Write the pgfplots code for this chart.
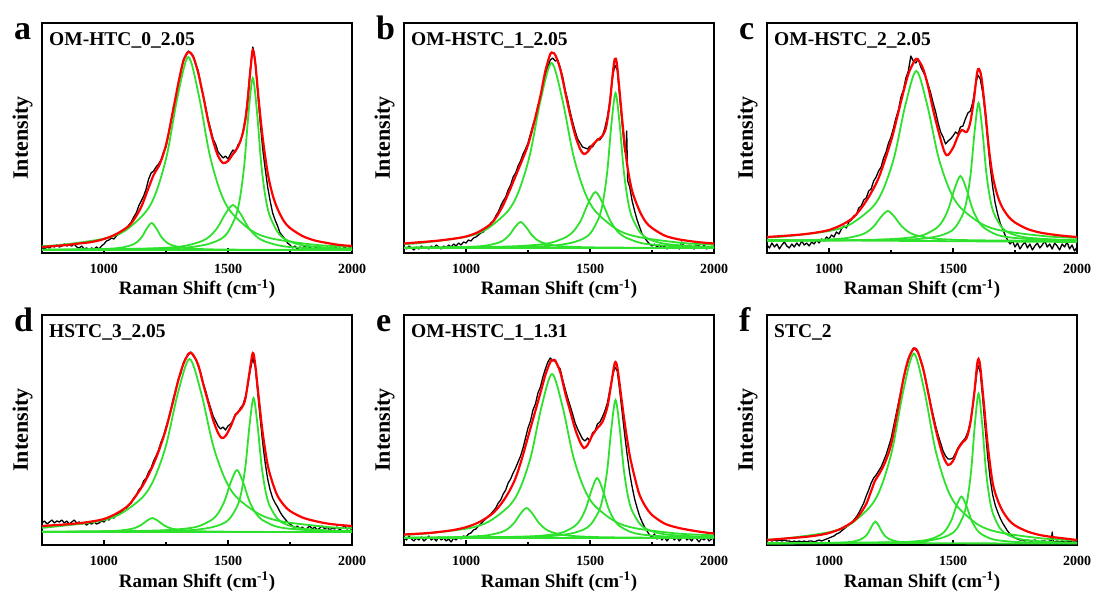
\documentclass[border=0pt]{standalone}
\usepackage{fontspec}
\setmainfont{Liberation Serif}
\usepackage{pgfplots}
\pgfplotsset{compat=1.18}

\definecolor{fitgreen}{RGB}{45,225,45}
\newcommand{\ticksize}{\fontsize{14}{15}\selectfont\bfseries}
\newcommand{\labsize}{\fontsize{19}{20}\selectfont\bfseries}
\newcommand{\ylabsize}{\fontsize{22}{23}\selectfont\bfseries}
\newcommand{\titsize}{\fontsize{19.5}{20}\selectfont\bfseries}
\newcommand{\letsize}{\fontsize{34}{35}\selectfont\bfseries}

\pgfplotsset{
  ramanpanel/.style={
    scale only axis, width=310pt, height=230pt,
    xmin=750, xmax=2000, ymin=0, ymax=230,
    xtick={1000,1500,2000}, xticklabels={1000,1500,2000},
    minor xtick={1250,1750},
    ytick=\empty, xtick pos=lower, tick align=inside,
    major tick length=5pt, minor tick length=3pt,
    tick style={black, line width=1.1pt},
    axis line style={line width=1.4pt},
    /pgf/number format/assume math mode=true,
    xticklabel style={font=\ticksize, anchor=base, yshift=-21pt, inner sep=0pt},
    xlabel={Raman Shift (cm\textsuperscript{-1})},
    ylabel={Intensity},
    xlabel style={font=\labsize, at={(axis description cs:0.5,0)}, anchor=base, yshift=-42pt, inner sep=0pt},
    ylabel style={font=\ylabsize, at={(axis description cs:-0.03,0.5)}, anchor=south, inner sep=0pt},
  },
  datal/.style={black, line width=1.3pt, line join=round},
  fitl/.style={red, line width=2.2pt, smooth},
  compl/.style={fitgreen, line width=1.8pt, smooth},
}

\begin{document}
\begin{tikzpicture}[x=1pt,y=1pt]
\useasboundingbox (0,0) rectangle (1093,592);

% ---------------- (a) OM-HTC_0_2.05 ----------------
\begin{axis}[ramanpanel, name=pa, at={(42pt,339pt)}, anchor=south west]
\addplot[datal] coordinates {(750,5)(760,4)(770,6)(780,5)(790,7)(800,6)(810,8)(820,6)(830,7)(840,9)(850,7)(860,8)(870,7)(880,9)(890,6)(900,5)(910,7)(920,4)(930,5)(940,3)(950,5)(960,4)(970,6)(980,4)(990,7)(1000,9)(1010,12)(1020,13)(1030,15)(1040,14)(1050,17)(1060,19)(1070,20)(1080,23)(1090,24)(1100,28)(1110,31)(1120,36)(1130,40)(1140,47)(1150,52)(1160,57)(1170,64)(1180,74)(1190,80)(1200,82)(1210,86)(1220,89)(1230,93)(1240,101)(1250,106)(1260,118)(1270,131)(1280,146)(1290,155)(1300,171)(1310,180)(1320,193)(1330,197)(1340,202)(1350,200)(1360,197)(1370,188)(1380,182)(1390,168)(1400,158)(1410,146)(1420,133)(1430,124)(1440,114)(1450,109)(1460,101)(1470,98)(1480,95)(1490,97)(1500,94)(1510,99)(1520,103)(1530,101)(1540,108)(1550,111)(1560,121)(1570,135)(1580,157)(1590,184)(1600,206)(1610,192)(1620,160)(1630,130)(1640,104)(1650,84)(1660,66)(1670,52)(1680,40)(1690,33)(1700,27)(1710,20)(1720,17)(1730,14)(1740,10)(1750,8)(1760,5)(1770,7)(1780,4)(1790,6)(1800,5)(1810,7)(1820,4)(1830,6)(1840,3)(1850,5)(1860,6)(1870,4)(1880,5)(1890,3)(1900,6)(1910,4)(1920,5)(1930,7)(1940,4)(1950,5)(1960,3)(1970,6)(1980,4)(1990,5)(2000,6)};
\addplot[compl] coordinates {(750,3)(2000,3)};
\addplot[compl] coordinates {(750,6.9)(830,8.2)(1000,14.3)(1085,22.3)(1170,41.6)(1212.5,62.4)(1255,99.5)(1297.5,157.4)(1340,196)(1382.5,157.4)(1425,99.5)(1467.5,62.4)(1510,41.6)(1595,22.3)(1680,14.3)(1850,8.2)(2000,6.1)};
\addplot[compl] coordinates {(750,3.2)(812,3.3)(964,3.7)(1040,4.6)(1078,5.7)(1116,8.4)(1135,11.3)(1154,16.5)(1173,24.6)(1192,30)(1211,24.6)(1230,16.5)(1249,11.3)(1268,8.4)(1306,5.7)(1344,4.6)(1420,3.7)(1572,3.3)(2000,3.1)};
\addplot[compl] coordinates {(750,3.3)(900,3.4)(1148,4.2)(1272,5.6)(1334,7.5)(1396,12)(1427,16.9)(1458,25.5)(1489,39)(1520,48)(1551,39)(1582,25.5)(1613,16.9)(1644,12)(1706,7.5)(1768,5.6)(1892,4.2)(2000,3.7)};
\addplot[compl] coordinates {(750,3.3)(1260,4.7)(1396,7.6)(1464,13.1)(1498,20.2)(1532,37.4)(1549,56)(1566,89)(1583,140.6)(1600,175)(1617,140.6)(1634,89)(1651,56)(1668,37.4)(1702,20.2)(1736,13.1)(1804,7.6)(1940,4.7)(2000,4.2)};
\addplot[fitl] coordinates {(750,6)(800,7)(850,8)(900,9.5)(950,11)(1000,14)(1050,19)(1100,27)(1125,35)(1150,46)(1175,62)(1200,78)(1225,89)(1250,108)(1275,138)(1300,170)(1320,192)(1340,201)(1360,196)(1380,180)(1400,157)(1420,132)(1440,112)(1460,97)(1480,90)(1500,92)(1520,99)(1540,106)(1560,120)(1575,142)(1590,182)(1600,203)(1610,190)(1625,150)(1640,115)(1660,80)(1680,58)(1700,44)(1725,32)(1750,25)(1800,17)(1850,12.5)(1900,10)(1950,8)(2000,7)};
\end{axis}

% ---------------- (b) OM-HSTC_1_2.05 ----------------
\begin{axis}[ramanpanel, name=pb, at={(404pt,339pt)}, anchor=south west]
\addplot[datal] coordinates {(750,6)(760,4)(770,7)(780,5)(790,3)(800,6)(810,4)(820,7)(830,5)(840,6)(850,4)(860,7)(870,5)(880,8)(890,6)(900,4)(910,7)(920,5)(930,8)(940,6)(950,9)(960,7)(970,10)(980,8)(990,11)(1000,10)(1010,13)(1020,12)(1030,15)(1040,16)(1050,18)(1060,20)(1070,21)(1080,25)(1090,26)(1100,30)(1110,32)(1120,37)(1130,41)(1140,47)(1150,52)(1160,56)(1170,63)(1180,68)(1190,76)(1200,80)(1210,87)(1220,92)(1230,99)(1240,104)(1250,110)(1260,119)(1270,128)(1280,135)(1290,147)(1300,155)(1310,167)(1320,178)(1330,186)(1340,193)(1350,195)(1360,192)(1370,193)(1380,185)(1390,176)(1400,163)(1410,153)(1420,141)(1430,131)(1440,122)(1450,114)(1460,110)(1470,106)(1480,105)(1490,104)(1500,107)(1510,106)(1520,110)(1530,114)(1540,113)(1550,117)(1560,125)(1570,136)(1580,152)(1590,174)(1600,188)(1610,183)(1620,155)(1630,128)(1640,102)(1645,100)(1648,122)(1652,72)(1660,66)(1670,52)(1680,42)(1690,33)(1700,26)(1710,19)(1720,15)(1730,12)(1740,9)(1750,7)(1760,9)(1770,6)(1780,8)(1790,5)(1800,7)(1810,4)(1820,6)(1830,8)(1840,5)(1850,7)(1860,4)(1870,11)(1880,6)(1890,5)(1900,8)(1910,6)(1920,4)(1930,9)(1940,7)(1950,5)(1960,8)(1970,4)(1980,6)(1990,5)(2000,7)};
\addplot[compl] coordinates {(750,5)(2000,5)};
\addplot[compl] coordinates {(750,9.0)(817,10)(993,15.9)(1081,23.5)(1169,42)(1213,62)(1257,97.5)(1301,153)(1345,190)(1389,153)(1433,97.5)(1477,62)(1521,42)(1609,23.5)(1697,15.9)(1873,10)(2000,8.3)};
\addplot[compl] coordinates {(750,5.2)(770,5.3)(950,5.7)(1040,6.5)(1085,7.6)(1130,10.2)(1152.5,13)(1175,18)(1197.5,25.8)(1220,31)(1242.5,25.8)(1265,18)(1287.5,13)(1310,10.2)(1355,7.6)(1400,6.5)(1490,5.7)(1670,5.3)(2000,5.1)};
\addplot[compl] coordinates {(750,5.3)(942,5.6)(1174,6.5)(1290,8.3)(1348,10.6)(1406,16.2)(1435,22.2)(1464,33)(1493,49.8)(1522,61)(1551,49.8)(1580,33)(1609,22.2)(1638,16.2)(1696,10.6)(1754,8.3)(1870,6.5)(2000,5.8)};
\addplot[compl] coordinates {(750,5.2)(1273,6.5)(1405,9.2)(1471,14.1)(1504,20.5)(1537,36)(1553.5,52.7)(1570,82.5)(1586.5,129)(1603,160)(1619.5,129)(1636,82.5)(1652.5,52.7)(1669,36)(1702,20.5)(1735,14.1)(1801,9.2)(1933,6.5)(2000,6.1)};
\addplot[fitl] coordinates {(750,9.5)(800,10.5)(850,11.5)(900,12.7)(950,14.3)(1000,16.5)(1050,21)(1100,29)(1125,37)(1150,48)(1175,62)(1200,77)(1225,92)(1250,108)(1275,131)(1300,157)(1320,182)(1340,199)(1350,200)(1360,198)(1380,184)(1400,161)(1420,138)(1440,118)(1460,104)(1475,99)(1490,101)(1510,108)(1530,113)(1550,117)(1565,126)(1580,150)(1592,180)(1600,194)(1608,190)(1620,160)(1635,120)(1650,88)(1670,62)(1700,42)(1725,31)(1750,25)(1800,17.5)(1850,14)(1900,12)(1950,10.5)(2000,9.5)};
\end{axis}

% ---------------- (c) OM-HSTC_2_2.05 ----------------
\begin{axis}[ramanpanel, name=pc, at={(767pt,339pt)}, anchor=south west]
\addplot[datal] coordinates {(750,8)(760,5)(770,10)(780,6)(790,9)(800,4)(810,8)(820,11)(830,7)(840,5)(850,9)(860,6)(870,10)(880,7)(890,12)(900,8)(910,10)(920,7)(930,11)(940,9)(950,13)(960,10)(970,14)(980,12)(990,16)(1000,14)(1010,18)(1020,16)(1030,21)(1040,19)(1050,24)(1060,27)(1070,25)(1080,31)(1090,33)(1100,37)(1110,38)(1120,45)(1130,47)(1140,53)(1150,55)(1160,62)(1170,64)(1180,72)(1190,76)(1200,82)(1210,86)(1220,95)(1230,101)(1240,110)(1250,116)(1260,125)(1270,135)(1280,143)(1290,156)(1300,163)(1310,175)(1320,182)(1330,197)(1340,192)(1350,190)(1360,194)(1370,186)(1380,181)(1390,176)(1400,168)(1410,160)(1420,150)(1430,141)(1440,130)(1450,121)(1460,116)(1470,109)(1480,112)(1490,114)(1500,117)(1510,121)(1520,119)(1530,126)(1540,127)(1550,134)(1560,140)(1570,142)(1580,151)(1590,167)(1600,178)(1610,174)(1620,160)(1630,139)(1640,112)(1650,86)(1660,66)(1670,50)(1680,39)(1690,30)(1700,24)(1710,18)(1720,13)(1730,9)(1740,12)(1750,6)(1760,10)(1770,4)(1780,8)(1790,11)(1800,5)(1810,9)(1820,3)(1830,7)(1840,10)(1850,5)(1860,8)(1870,12)(1880,6)(1890,9)(1900,4)(1910,10)(1920,7)(1930,3)(1940,9)(1950,6)(1960,11)(1970,4)(1980,8)(1990,2)(2000,6)};
\addplot[compl] coordinates {(750,13)(2000,11)};
\addplot[compl] coordinates {(750,15.6)(824,16.6)(1000,22)(1088,29)(1176,46)(1220,64.4)(1264,97)(1308,148)(1352,182)(1396,148)(1440,97)(1484,64.4)(1528,46)(1616,29)(1704,22)(1880,16.6)(2000,15.1)};
\addplot[compl] coordinates {(750,12.4)(907,12.8)(1017,13.8)(1072,15)(1127,18)(1154.5,21.2)(1182,27)(1209.5,36)(1237,42)(1264.5,36)(1292,27)(1319.5,21.2)(1347,18)(1402,15)(1457,13.8)(1567,12.8)(1787,12.3)(2000,12.2)};
\addplot[compl] coordinates {(750,12.2)(1050,12.6)(1242,13.8)(1338,15.8)(1386,18.5)(1434,25)(1458,32)(1482,44.5)(1506,64)(1530,77)(1554,64)(1578,44.5)(1602,32)(1626,25)(1674,18.5)(1722,15.8)(1818,13.8)(2000,12.7)};
\addplot[compl] coordinates {(750,12.2)(1293,13.4)(1417,15.7)(1479,20.1)(1510,25.8)(1541,39.6)(1556.5,54.5)(1572,81)(1587.5,122.4)(1603,150)(1618.5,122.4)(1634,81)(1649.5,54.5)(1665,39.6)(1696,25.8)(1727,20.1)(1789,15.7)(1913,13.4)(2000,12.8)};
\addplot[fitl] coordinates {(750,16)(800,16.8)(850,17.7)(900,18.8)(950,20.5)(1000,23)(1050,28)(1100,36)(1150,52)(1200,75)(1250,112)(1275,136)(1300,161)(1320,179)(1340,190)(1350,194)(1360,193)(1380,184)(1400,166)(1420,143)(1440,123)(1460,105)(1470,99)(1480,98)(1500,105)(1520,117)(1535,123)(1555,121)(1570,131)(1585,155)(1597,180)(1605,184)(1615,175)(1630,142)(1645,104)(1660,77)(1680,57)(1700,45)(1725,36)(1750,30.5)(1800,24)(1850,20.5)(1900,18.5)(1950,17)(2000,16)};
\end{axis}

% ---------------- (d) HSTC_3_2.05 ----------------
\begin{axis}[ramanpanel, name=pd, at={(42pt,47pt)}, anchor=south west]
\addplot[datal] coordinates {(750,22)(760,24)(770,21)(780,23)(790,25)(800,22)(810,24)(820,23)(830,25)(840,22)(850,24)(860,21)(870,23)(880,25)(890,22)(900,23)(910,21)(920,22)(930,20)(940,22)(950,21)(960,23)(970,21)(980,22)(990,24)(1000,23)(1010,26)(1020,25)(1030,28)(1040,27)(1050,30)(1060,32)(1070,33)(1080,36)(1090,37)(1100,40)(1110,42)(1120,47)(1130,50)(1140,55)(1150,58)(1160,64)(1170,67)(1180,73)(1190,77)(1200,84)(1210,89)(1220,95)(1230,103)(1240,109)(1250,118)(1260,126)(1270,136)(1280,147)(1290,156)(1300,166)(1310,172)(1320,182)(1330,187)(1340,190)(1350,193)(1360,189)(1370,186)(1380,179)(1390,172)(1400,162)(1410,154)(1420,145)(1430,137)(1440,129)(1450,124)(1460,119)(1470,116)(1480,118)(1490,115)(1500,119)(1510,121)(1520,124)(1530,131)(1540,132)(1550,137)(1560,140)(1570,148)(1580,160)(1590,175)(1600,187)(1610,178)(1620,152)(1630,126)(1640,102)(1650,82)(1660,66)(1670,55)(1680,47)(1690,42)(1700,38)(1710,33)(1720,29)(1730,26)(1740,23)(1750,21)(1760,19)(1770,17)(1780,19)(1790,16)(1800,18)(1810,15)(1820,17)(1830,19)(1840,16)(1850,18)(1860,15)(1870,17)(1880,19)(1890,16)(1900,18)(1910,15)(1920,17)(1930,16)(1940,18)(1950,15)(1960,17)(1970,19)(1980,16)(1990,17)(2000,15)};
\addplot[compl] coordinates {(750,13)(2000,13)};
\addplot[compl] coordinates {(750,17.3)(775,17.7)(965,23.2)(1060,30.3)(1155,47.6)(1202.5,66.3)(1250,99.5)(1297.5,151.4)(1345,186)(1392.5,151.4)(1440,99.5)(1487.5,66.3)(1535,47.6)(1630,30.3)(1725,23.2)(1915,17.7)(2000,16.6)};
\addplot[compl] coordinates {(750,13.1)(925,13.4)(1015,13.8)(1060,14.4)(1105,15.8)(1127.5,17.3)(1150,20)(1172.5,24.2)(1195,27)(1217.5,24.2)(1240,20)(1262.5,17.3)(1285,15.8)(1330,14.4)(1375,13.8)(1465,13.4)(1645,13.1)(2000,13)};
\addplot[compl] coordinates {(750,13.2)(1036,13.6)(1236,14.7)(1336,16.6)(1386,19.2)(1436,25.4)(1461,32.1)(1486,44)(1511,62.6)(1536,75)(1561,62.6)(1586,44)(1611,32.1)(1636,25.4)(1686,19.2)(1736,16.6)(1836,14.7)(2000,13.7)};
\addplot[compl] coordinates {(750,13.2)(1283,14.3)(1411,16.6)(1475,20.9)(1507,26.4)(1539,39.8)(1555,54.3)(1571,80)(1587,120.2)(1603,147)(1619,120.2)(1635,80)(1651,54.3)(1667,39.8)(1699,26.4)(1731,20.9)(1795,16.6)(1923,14.3)(2000,13.9)};
\addplot[fitl] coordinates {(750,19)(800,19.8)(850,20.7)(900,21.8)(950,23.5)(1000,26)(1050,31.5)(1100,40)(1150,57)(1175,68)(1200,81)(1225,97)(1250,116)(1275,140)(1300,165)(1320,181)(1340,191)(1350,192)(1360,190)(1380,180)(1400,161)(1420,143)(1440,125)(1460,112)(1475,107)(1490,109)(1510,118)(1530,130)(1555,137)(1570,146)(1585,170)(1600,192)(1610,180)(1625,145)(1640,112)(1660,80)(1680,62)(1700,49)(1725,40)(1750,34)(1800,27.5)(1850,24)(1900,21.5)(1950,20)(2000,19)};
\end{axis}

% ---------------- (e) OM-HSTC_1_1.31 ----------------
\begin{axis}[ramanpanel, name=pe, at={(404pt,47pt)}, anchor=south west]
\addplot[datal] coordinates {(750,8)(760,5)(770,9)(780,6)(790,4)(800,7)(810,5)(820,8)(830,4)(840,6)(850,9)(860,5)(870,7)(880,4)(890,8)(900,5)(910,7)(920,4)(930,6)(940,3)(950,7)(960,5)(970,8)(980,6)(990,9)(1000,8)(1010,11)(1020,12)(1030,15)(1040,16)(1050,19)(1060,21)(1070,24)(1080,26)(1090,29)(1100,31)(1110,34)(1120,37)(1130,42)(1140,45)(1150,51)(1160,55)(1170,62)(1180,66)(1190,72)(1200,77)(1210,83)(1220,89)(1230,97)(1240,107)(1250,117)(1260,124)(1270,135)(1280,141)(1290,152)(1300,158)(1310,168)(1320,176)(1330,183)(1340,187)(1350,184)(1360,185)(1370,179)(1380,176)(1390,165)(1400,156)(1410,147)(1420,139)(1430,131)(1440,122)(1450,116)(1460,111)(1470,106)(1480,104)(1490,107)(1500,104)(1510,112)(1520,114)(1530,121)(1540,123)(1550,128)(1560,134)(1570,142)(1580,155)(1590,168)(1600,178)(1610,174)(1620,154)(1630,132)(1640,110)(1650,90)(1660,72)(1670,58)(1680,46)(1690,37)(1700,29)(1710,23)(1720,18)(1730,14)(1740,10)(1750,8)(1760,11)(1770,6)(1780,9)(1790,5)(1800,8)(1810,4)(1820,7)(1830,9)(1840,5)(1850,8)(1860,4)(1870,7)(1880,10)(1890,5)(1900,7)(1910,4)(1920,8)(1930,6)(1940,3)(1950,7)(1960,5)(1970,8)(1980,4)(1990,6)(2000,7)};
\addplot[compl] coordinates {(750,7)(2000,7)};
\addplot[compl] coordinates {(750,10.3)(837,11.4)(1007,16.6)(1092,23.4)(1177,39.8)(1219.5,57.5)(1262,89)(1304.5,138.2)(1347,171)(1389.5,138.2)(1432,89)(1474.5,57.5)(1517,39.8)(1602,23.4)(1687,16.6)(1857,11.4)(2000,9.7)};
\addplot[compl] coordinates {(750,7.3)(944,7.8)(1044,8.8)(1094,10)(1144,13)(1169,16.2)(1194,22)(1219,31)(1244,37)(1269,31)(1294,22)(1319,16.2)(1344,13)(1394,10)(1444,8.8)(1544,7.8)(1744,7.3)(2000,7.1)};
\addplot[compl] coordinates {(750,7.2)(1079,7.6)(1259,8.6)(1349,10.5)(1394,13)(1439,19)(1461.5,25.5)(1484,37)(1506.5,55)(1529,67)(1551.5,55)(1574,37)(1596.5,25.5)(1619,19)(1664,13)(1709,10.5)(1799,8.6)(2000,7.5)};
\addplot[compl] coordinates {(750,7.2)(1273,8.4)(1405,10.7)(1471,15.1)(1504,20.8)(1537,34.6)(1553.5,49.5)(1570,76)(1586.5,117.4)(1603,145)(1619.5,117.4)(1636,76)(1652.5,49.5)(1669,34.6)(1702,20.8)(1735,15.1)(1801,10.7)(1933,8.4)(2000,8)};
\addplot[fitl] coordinates {(750,10.5)(800,11.2)(850,12)(900,13.3)(950,15)(1000,17.8)(1050,22.5)(1100,30)(1125,36)(1150,44)(1175,54)(1200,67)(1225,86)(1250,108)(1275,130)(1300,152)(1320,170)(1340,183)(1350,185)(1360,184)(1380,173)(1400,152)(1420,134)(1440,116)(1460,103)(1475,97)(1490,100)(1510,110)(1530,117)(1550,123)(1570,138)(1585,160)(1600,182)(1610,178)(1625,150)(1640,122)(1660,90)(1680,68)(1700,50)(1725,38)(1750,30)(1800,21.5)(1850,17.5)(1900,15)(1950,13)(2000,11.5)};
\end{axis}

% ---------------- (f) STC_2 ----------------
\begin{axis}[ramanpanel, name=pf, at={(767pt,47pt)}, anchor=south west]
\addplot[datal] coordinates {(750,4)(760,5)(770,4)(780,5)(790,4)(800,5)(810,4)(820,5)(830,4)(840,4)(850,3)(860,4)(870,3)(880,4)(890,3)(900,4)(910,3)(920,4)(930,4)(940,3)(950,4)(960,5)(970,4)(980,5)(990,6)(1000,7)(1010,8)(1020,9)(1030,11)(1040,12)(1050,14)(1060,16)(1070,18)(1080,20)(1090,22)(1100,25)(1110,28)(1120,32)(1130,37)(1140,42)(1150,49)(1160,55)(1170,62)(1180,67)(1190,70)(1200,74)(1210,78)(1220,84)(1230,90)(1240,98)(1250,106)(1260,118)(1270,130)(1280,142)(1290,154)(1300,166)(1310,176)(1320,185)(1330,192)(1340,197)(1350,195)(1360,192)(1370,184)(1380,176)(1390,165)(1400,153)(1410,141)(1420,130)(1430,119)(1440,110)(1450,102)(1460,94)(1470,89)(1480,86)(1490,86)(1500,87)(1510,92)(1520,97)(1530,101)(1540,104)(1550,107)(1560,113)(1570,123)(1580,140)(1590,160)(1600,180)(1610,173)(1620,146)(1630,116)(1640,88)(1650,66)(1660,50)(1670,40)(1680,33)(1690,27)(1700,22)(1710,18)(1720,14)(1730,11)(1740,9)(1750,7)(1760,6)(1770,5)(1780,5)(1790,4)(1800,5)(1810,4)(1820,4)(1830,5)(1840,4)(1850,3)(1860,4)(1870,4)(1880,3)(1890,4)(1896,4)(1900,13)(1904,4)(1910,3)(1920,4)(1930,3)(1940,4)(1950,3)(1960,3)(1970,4)(1980,3)(1990,3)(2000,3)};
\addplot[compl] coordinates {(750,1.5)(2000,1.5)};
\addplot[compl] coordinates {(750,5.4)(826,6.6)(998,12.7)(1084,20.5)(1170,39.5)(1213,60)(1256,96.5)(1299,153.5)(1342,191.5)(1385,153.5)(1428,96.5)(1471,60)(1514,39.5)(1600,20.5)(1686,12.7)(1858,6.6)(2000,4.7)};
\addplot[compl] coordinates {(750,1.6)(907,1.7)(1019,2.1)(1075,2.8)(1103,3.7)(1131,5.9)(1145,8.3)(1159,12.5)(1173,19.1)(1187,23.5)(1201,19.1)(1215,12.5)(1229,8.3)(1243,5.9)(1271,3.7)(1299,2.8)(1355,2.1)(1467,1.7)(2000,1.5)};
\addplot[compl] coordinates {(750,1.6)(1134,2)(1294,2.8)(1374,4.3)(1414,6.2)(1454,10.9)(1474,16)(1494,25)(1514,39.1)(1534,48.5)(1554,39.1)(1574,25)(1594,16)(1614,10.9)(1654,6.2)(1694,4.3)(1774,2.8)(1934,2)(2000,1.8)};
\addplot[compl] coordinates {(750,1.7)(1313,3)(1429,5.6)(1487,10.3)(1516,16.5)(1545,31.5)(1559.5,47.7)(1574,76.5)(1588.5,121.5)(1603,151.5)(1617.5,121.5)(1632,76.5)(1646.5,47.7)(1661,31.5)(1690,16.5)(1719,10.3)(1777,5.6)(1893,3)(2000,2.3)};
\addplot[fitl] coordinates {(750,5)(800,6)(850,7)(900,8)(950,9.5)(1000,12)(1050,16.5)(1100,24)(1125,31)(1150,41)(1170,54)(1185,64)(1200,70)(1225,82)(1250,100)(1275,132)(1300,166)(1320,186)(1340,196)(1350,196)(1360,192)(1380,176)(1400,152)(1420,127)(1440,106)(1460,89)(1480,80)(1500,84)(1520,96)(1540,103)(1555,107)(1570,122)(1585,150)(1597,180)(1603,186)(1610,178)(1625,140)(1640,100)(1660,62)(1680,45)(1700,34)(1725,25)(1750,19.5)(1800,13.5)(1850,10)(1900,8)(1950,6.5)(2000,5)};
\end{axis}

% panel titles and letters
\foreach \ax/\lt/\ttl in {pa/a/{OM-HTC\_0\_2.05}, pb/b/{OM-HSTC\_1\_2.05}, pc/c/{OM-HSTC\_2\_2.05}, pd/d/{HSTC\_3\_2.05}, pe/e/{OM-HSTC\_1\_1.31}, pf/f/{STC\_2}}{
  \node[anchor=base west, font=\titsize, inner sep=0pt] at ([xshift=7pt, yshift=-23pt]\ax.north west) {\ttl};
  \node[anchor=base west, font=\letsize, inner sep=0pt] at ([xshift=-28pt, yshift=-17pt]\ax.north west) {\lt};
}
\end{tikzpicture}
\end{document}
